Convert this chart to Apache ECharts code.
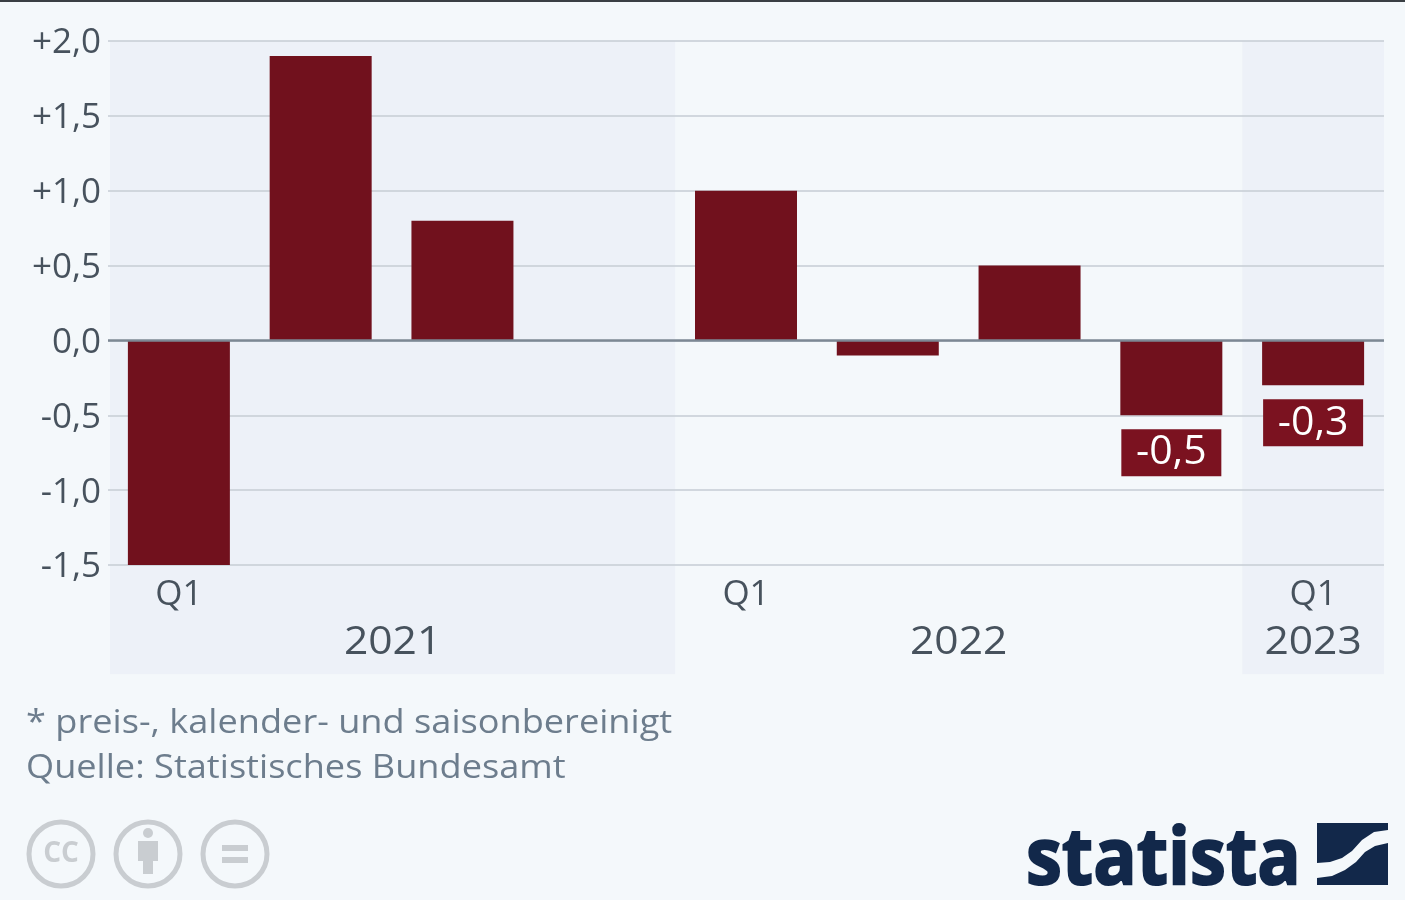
<!DOCTYPE html>
<html><head><meta charset="utf-8">
<style>html,body{margin:0;padding:0;background:#f4f8fb}#c{width:1405px;height:900px}</style>
<script src="https://cdn.jsdelivr.net/npm/echarts@6/dist/echarts.min.js"></script>
</head><body><div id="c"></div>
<script>
const quarters = ['Q1','Q2','Q3','Q4','Q1','Q2','Q3','Q4','Q1'];
const tickQuarterLabels = ['Q1','','','','Q1','','','','Q1'];
const values = [-1.5,1.9,0.8,0,1.0,-0.1,0.5,-0.5,-0.3];
const labelledIdx = [7,8];
const yearBands = [[0,3,'2021',true],[4,7,'2022',false],[8,8,'2023',true]];
const note = '* preis-, kalender- und saisonbereinigt';
const source = 'Quelle: Statistisches Bundesamt';
const FONT = '"Open Sans"';
const fmt = v => (v>0?'+':'') + v.toFixed(1).replace('.',',');
const chart = echarts.init(document.getElementById('c'));
const cats = quarters.map((q,i)=>i+':'+q);
chart.setOption({
  animation:false,
  backgroundColor:'#f4f8fb',
  textStyle:{fontFamily:FONT},
  grid:{left:108,right:21,top:41,bottom:335,containLabel:false},
  xAxis:{type:'category',data:cats,position:'bottom',z:2,
    axisLine:{show:false,onZero:false},axisTick:{show:false},
    axisLabel:{interval:0,color:'#47525d',fontSize:35,margin:13,fontFamily:FONT,
      formatter:(v,i)=>tickQuarterLabels[i]}},
  yAxis:{type:'value',min:-1.5,max:2,interval:0.5,z:2,
    axisLine:{show:false},axisTick:{show:false},
    splitLine:{lineStyle:{color:'#c6cdd5',width:1.5}},
    axisLabel:{color:'#47525d',fontSize:35,margin:7,fontFamily:FONT,
      formatter:v=>'{t|'+fmt(v)+'}',
      rich:{t:{color:'#47525d',fontSize:35,fontFamily:FONT,padding:[5,0,0,0]}}}},
  series:[
    {type:'custom',z:0,silent:true,data:yearBands.map(b=>[b[0],b[1],b[2],b[3]?1:0]),
     encode:{x:[0,1]},
     renderItem:(p,api)=>{
       const a=api.value(0),b=api.value(1),w=api.size([1,0])[0];
       const x0=api.coord([a,2])[0]-w/2+(a===0?2:0), x1=api.coord([b,2])[0]+w/2;
       const top=api.coord([a,2])[1], bot=api.coord([a,-2.23])[1];
       const ch=[];
       if(api.value(3)) ch.push({type:'rect',shape:{x:x0,y:top,width:x1-x0,height:bot-top},style:{fill:'#edf1f8'}});
       ch.push({type:'text',z2:5,x:(x0+x1)/2,y:643,scaleX:1.12,style:{text:String(yearBands[p.dataIndex][2]),x:0,y:0,align:'center',verticalAlign:'middle',
         font:'38px '+FONT,fill:'#47525d'}});
       return {type:'group',children:ch};
     }},
    {type:'bar',z:3,data:values.map((v,i)=>labelledIdx.includes(i)?{value:v,label:{show:true}}:v),
     barWidth:102,itemStyle:{color:'#71111d'},
     label:{show:false,position:'bottom',distance:14,formatter:p=>fmt(p.value),
       color:'#ffffff',fontSize:41,fontFamily:FONT,backgroundColor:'#7b1220',
       width:100,height:47,lineHeight:47,align:'center',verticalAlign:'top',padding:0},
     markLine:{silent:true,symbol:'none',label:{show:false},z:4,
       lineStyle:{color:'#7d8894',width:2.5,type:'solid'},data:[{yAxis:0}]}}
  ],
  graphic:[
    {type:'rect',shape:{x:0,y:0,width:1405,height:2},style:{fill:'#3a3f44'}},
    {type:'text',x:26,y:724,scaleX:1.13,style:{text:note,font:'32px '+FONT,fill:'#6d7d8d',verticalAlign:'middle'}},
    {type:'text',x:26,y:769,scaleX:1.13,style:{text:source,font:'32px '+FONT,fill:'#6d7d8d',verticalAlign:'middle'}},
    ...[61,148,235].map(cx=>({type:'circle',shape:{cx,cy:854,r:32},style:{fill:'none',stroke:'#c9cdd1',lineWidth:5}})),
    {type:'text',x:61,y:854,style:{text:'CC',font:'bold 28px '+FONT,fill:'#c9cdd1',align:'center',verticalAlign:'middle'}},
    {type:'circle',shape:{cx:148,cy:833,r:5},style:{fill:'#c9cdd1'}},
    {type:'rect',shape:{x:138,y:841,width:20,height:20},style:{fill:'#c9cdd1'}},
    {type:'rect',shape:{x:143,y:860,width:10,height:14},style:{fill:'#c9cdd1'}},
    {type:'rect',shape:{x:222,y:845,width:26,height:6},style:{fill:'#c9cdd1'}},
    {type:'rect',shape:{x:222,y:857,width:26,height:6},style:{fill:'#c9cdd1'}},
    {type:'text',x:1026,y:862,scaleX:0.925,style:{text:'statista',font:'bold 78px "Open Sans"',fill:'#12284a',stroke:'#12284a',lineWidth:2,verticalAlign:'middle'}},
    {type:'polygon',shape:{points:[[1317,823],[1388,823],[1388,830],[1374,832],[1362,840],[1352,851],[1342,858],[1330,862],[1317,863]]},style:{fill:'#12284a'}},
    {type:'polygon',shape:{points:[[1388,843],[1388,885],[1317,885],[1317,878],[1332,876],[1345,870],[1356,862],[1365,852],[1375,846]]},style:{fill:'#12284a'}}
  ]
});
</script></body></html>
